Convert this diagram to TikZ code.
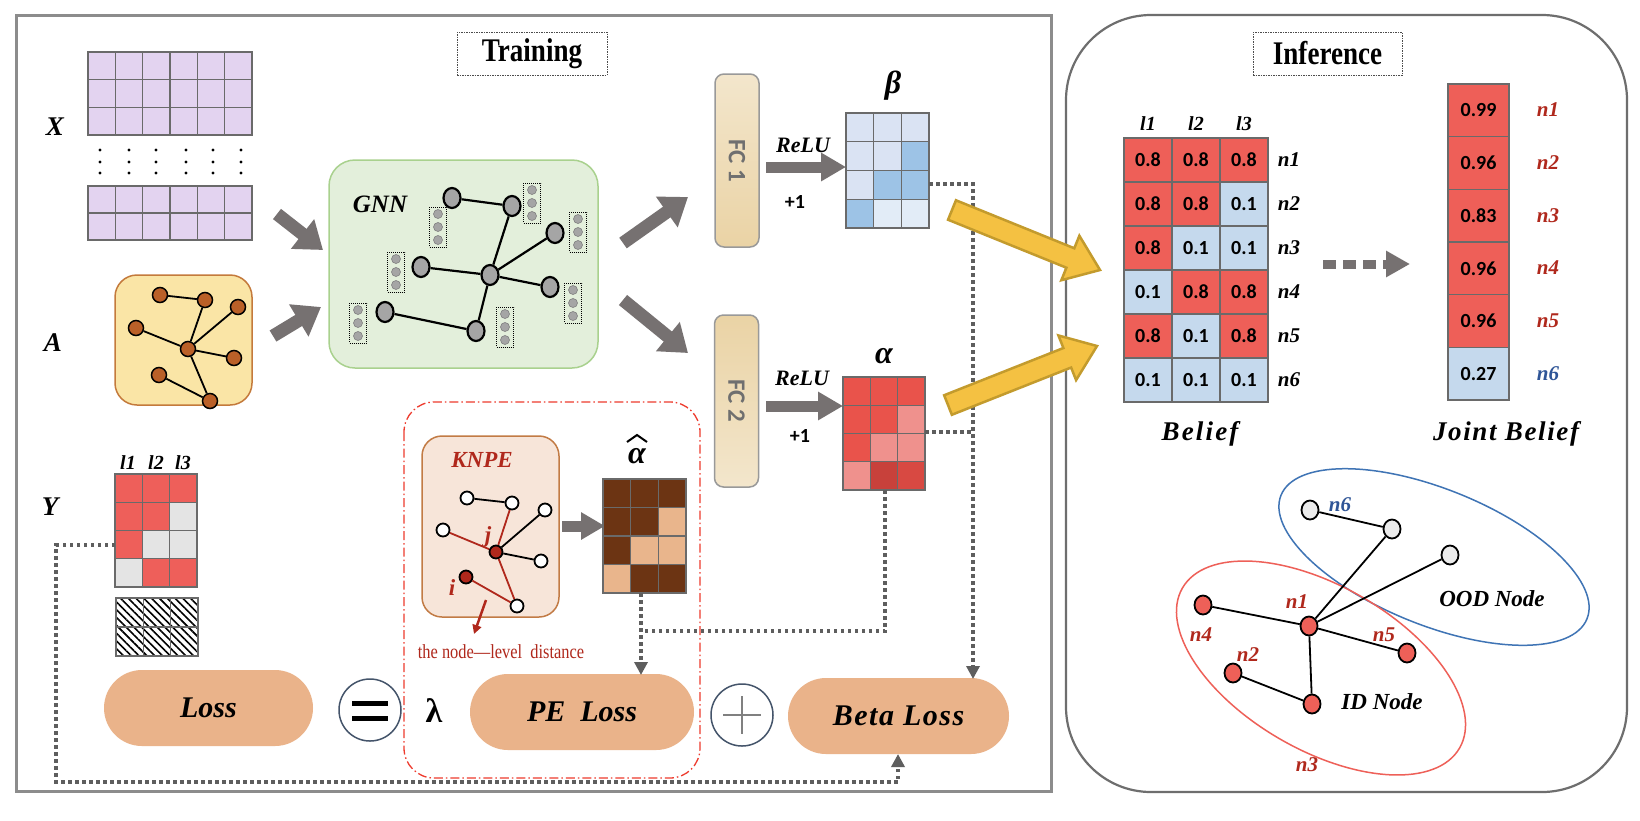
\documentclass[tikz,border=0pt]{standalone}
\usepackage{fontspec}
\setmainfont{Liberation Serif}
\newfontfamily\calib{Carlito}
\newfontfamily\condser[FakeStretch=0.82]{Liberation Serif}
\usetikzlibrary{arrows.meta,calc,patterns.meta,shapes.geometric}
\definecolor{framec}{HTML}{8C8C8C}
\definecolor{framei}{HTML}{6E6E6E}
\definecolor{arrgray}{HTML}{767171}
\definecolor{dotgray}{HTML}{5E5E5E}
\definecolor{purp}{HTML}{E3D3F0}
\definecolor{gridc}{HTML}{6A6A6A}
\definecolor{aboxc}{HTML}{FAE5A6}
\definecolor{aboxb}{HTML}{C47A3C}
\definecolor{anodec}{HTML}{BA6028}
\definecolor{gnnbg}{HTML}{E3EFDB}
\definecolor{gnnb}{HTML}{A9D18E}
\definecolor{gnodec}{HTML}{A5A5A5}
\definecolor{fctop}{HTML}{F3E6CC}
\definecolor{fcbot}{HTML}{EAD3A5}
\definecolor{fctext}{HTML}{6F6F6F}
\definecolor{blA}{HTML}{DAE3F3}
\definecolor{blB}{HTML}{9DC3E6}
\definecolor{blC}{HTML}{E2ECF7}
\definecolor{rdA}{HTML}{E9534B}
\definecolor{rdB}{HTML}{EF918D}
\definecolor{rdC}{HTML}{C8413B}
\definecolor{rdD}{HTML}{D84942}
\definecolor{yred}{HTML}{EE5F5A}
\definecolor{ygray}{HTML}{E4E4E4}
\definecolor{brn}{HTML}{6C3413}
\definecolor{tanc}{HTML}{E9B58C}
\definecolor{knpebg}{HTML}{F7E5D9}
\definecolor{knpeb}{HTML}{C27B45}
\definecolor{dred}{HTML}{B0281C}
\definecolor{lossc}{HTML}{EAB38A}
\definecolor{circb}{HTML}{44546A}
\definecolor{dashred}{HTML}{EE3B2E}
\definecolor{yel}{HTML}{F4C142}
\definecolor{yelb}{HTML}{C39B2D}
\definecolor{bred}{HTML}{EE5F58}
\definecolor{bblue}{HTML}{C5D9ED}
\definecolor{nblue}{HTML}{2F5597}
\definecolor{oodb}{HTML}{3F74B5}
\definecolor{idr}{HTML}{EE6058}
\definecolor{lgray}{HTML}{EBEBEB}

\newcommand{\matrixcells}[6]{%
  \foreach \cc [count=\k from 0] in {#6} {%
    \pgfmathtruncatemacro{\rr}{\k/#5}%
    \pgfmathtruncatemacro{\cl}{mod(\k,#5)}%
    \filldraw[fill=\cc, draw=gridc, line width=1.3pt] ({#1+\cl*#3},{#2+\rr*#4}) rectangle ++(#3,#4);
  }}
\newcommand{\valcells}[7]{%
  \foreach \cc/\vv [count=\k from 0] in {#6} {%
    \pgfmathtruncatemacro{\rr}{\k/#5}%
    \pgfmathtruncatemacro{\cl}{mod(\k,#5)}%
    \filldraw[fill=\cc, draw=gridc, line width=1.3pt] ({#1+\cl*#3},{#2+\rr*#4}) rectangle ++(#3,#4);
    \node[num] (#7\k) at ({#1+(\cl+0.5)*#3},{#2+(\rr+0.5)*#4}) {\vv};
  }}
\newcommand{\yelarrow}[2]{%
  \path ($(#2)!32pt!(#1)$) coordinate (yh);
  \filldraw[fill=yel, draw=yelb, line width=2.5pt, line join=miter]
    ($(#1)!10.5pt!90:(#2)$) -- ($(yh)!10.5pt!-90:(#1)$) -- ($(yh)!24pt!-90:(#1)$) -- (#2)
    -- ($(yh)!24pt!90:(#1)$) -- ($(yh)!10.5pt!90:(#1)$) -- ($(#1)!10.5pt!-90:(#2)$) -- cycle;}

\begin{document}
\begin{tikzpicture}[x=1pt,y=-1pt,
  lbl/.style={font=\bfseries\itshape\fontsize{27}{28}\selectfont},
  smlbl/.style={font=\bfseries\itshape\fontsize{22}{23}\selectfont},
  num/.style={font=\calib\bfseries\fontsize{20}{22}\selectfont},
  box0/.style={inner sep=0pt, outer sep=0pt, draw=none},
  titlebox/.style={draw=black!70, dash pattern=on 1.5pt off 1pt, line width=0.8pt, inner sep=0pt, font=\condser\bfseries\fontsize{33}{34}\selectfont},
  garrow/.style={draw=arrgray, line width=13pt, -{Triangle[length=26pt,width=36pt]}},
  sarrow/.style={draw=arrgray, line width=11pt, -{Triangle[length=25pt,width=27pt]}},
  dotl/.style={draw=dotgray, line width=3.5pt, dash pattern=on 3.5pt off 3.5pt},
  dtip/.style={-{Triangle[length=13pt,width=13pt]}},
  anode/.style={circle, draw=black, line width=1.5pt, fill=anodec, minimum size=15pt, inner sep=0pt},
  gnode/.style={ellipse, draw=black, line width=2.2pt, fill=gnodec, minimum width=17pt, minimum height=20pt, inner sep=0pt},
  fbox/.style={draw=black, dash pattern=on 1pt off 1pt, line width=1pt, minimum width=17pt, minimum height=40pt, inner sep=0pt},
  fdot/.style={circle, fill=gnodec, draw=gray, line width=0.6pt, minimum size=9pt, inner sep=0pt},
  knode/.style={circle, draw=black, line width=1.8pt, fill=white, minimum size=13pt, inner sep=0pt},
  inode/.style={ellipse, draw=black, line width=1.8pt, minimum width=17pt, minimum height=19pt, inner sep=0pt},
  fcbox/.style={draw=black!40, line width=1.5pt, rounded corners=9pt, minimum width=44pt, minimum height=173pt, inner sep=0pt},
  fctxt/.style={rotate=-90, text=fctext, font=\calib\bfseries\fontsize{25}{25}\selectfont},
  lossbox/.style={fill=lossc, rounded corners=38pt, minimum height=76pt, inner sep=0pt, font=\bfseries\itshape\fontsize{30}{32}\selectfont},
  opc/.style={circle, draw=circb, line width=1.5pt, minimum size=62pt, inner sep=0pt},
  blk/.style={draw=black, line width=1.8pt},
  redl/.style={draw=dred, line width=1.8pt},
  nlbl/.style={font=\bfseries\itshape\fontsize{21}{21}\selectfont}
]
\useasboundingbox (0,0) rectangle (1640,820);
\fill[white] (0,0) rectangle (1640,820);

% ---------- frames ----------
\draw[framec, line width=3pt] (16,15) rectangle (1051,791);
\draw[framei, line width=2.2pt, rounded corners=85pt] (1066,15) rectangle (1627,792);
\node[titlebox, minimum width=150pt, minimum height=43pt] (train) at (532,53.5) {Training};
\node[titlebox, minimum width=149pt, minimum height=43pt] (infer) at (1327.5,53.5) {Inference};

% ---------- X ----------
\matrixcells{88}{52}{27.33}{27.67}{6}{purp,purp,purp,purp,purp,purp,purp,purp,purp,purp,purp,purp,purp,purp,purp,purp,purp,purp}
\matrixcells{88}{186}{27.33}{27}{6}{purp,purp,purp,purp,purp,purp,purp,purp,purp,purp,purp,purp}
\foreach \xx [count=\q] in {100,129,156,186,213,241}{
  \foreach \yy [count=\w] in {150,162,173}{
    \fill[black] (\xx,\yy) circle (1.6pt);
  }}
\node[box0, minimum width=164pt, minimum height=188pt] (Xm) at (170,146) {};
\node[lbl] (Xl) at (55,127) {X};

% ---------- A ----------
\node[box0, draw=aboxb, fill=aboxc, line width=1.5pt, rounded corners=22pt, minimum width=137pt, minimum height=130pt] (Abox) at (183.5,340) {};
\node[lbl] (Al) at (53,343) {A};
\node[anode] (a1) at (160,295) {};
\node[anode] (a2) at (205,300) {};
\node[anode] (a3) at (238,307) {};
\node[anode] (a4) at (136,328) {};
\node[anode] (a0) at (188,349) {};
\node[anode] (a5) at (234,358) {};
\node[anode] (a6) at (159,375) {};
\node[anode] (a7) at (210,401) {};
\foreach \u/\v in {a1/a2,a2/a0,a3/a0,a4/a0,a0/a5,a0/a7,a6/a7} \draw[blk] (\u) -- (\v);

% arrows into GNN
\coordinate (xs) at (277,214); \coordinate (xe) at (323,250);
\coordinate (as) at (273,336); \coordinate (ae) at (321,307);
\draw[garrow] (xs) -- (xe);
\draw[garrow] (as) -- (ae);

% ---------- GNN ----------
\node[box0, draw=gnnb, fill=gnnbg, line width=1.5pt, rounded corners=26pt, minimum width=269pt, minimum height=208pt] (gnn) at (463.5,264) {};
\node[lbl, font=\bfseries\itshape\fontsize{25}{26}\selectfont] (gnnl) at (380,204) {GNN};
\foreach \nm/\px/\py in {f1/438/227, f2/532/203, f3/578/232, f4/396/272, f5/573/303, f6/505/327, f7/358/323}{
  \node[fbox] (\nm) at (\px,\py) {};
  \node[fdot] (\nm a) at (\px,\py-13) {};
  \node[fdot] (\nm b) at (\px,\py) {};
  \node[fdot] (\nm c) at (\px,\py+13) {};
}
\node[gnode] (g1) at (452,198) {};
\node[gnode] (g2) at (512,206) {};
\node[gnode] (g3) at (555,233) {};
\node[gnode] (g4) at (421,267) {};
\node[gnode] (g0) at (490,275) {};
\node[gnode] (g5) at (550,287) {};
\node[gnode] (g6) at (385,312) {};
\node[gnode] (g7) at (476,331) {};
\foreach \u/\v in {g1/g2,g2/g0,g3/g0,g4/g0,g0/g5,g0/g7,g6/g7} \draw[blk, line width=2.2pt] (\u) -- (\v);

% arrows to FC
\coordinate (g1s) at (623,243); \coordinate (g1e) at (688,197);
\coordinate (g2s) at (623,300); \coordinate (g2e) at (688,353);
\draw[garrow] (g1s) -- (g1e);
\draw[garrow] (g2s) -- (g2e);

% ---------- FC ----------
\node[fcbox, top color=fctop, bottom color=fcbot] (fc1) at (737,160.5) {};
\node[fcbox, top color=fcbot, bottom color=fctop, minimum height=172pt] (fc2) at (736.5,401) {};
\node[fctxt] (fc1t) at (fc1) {FC 1};
\node[fctxt] (fc2t) at (fc2) {FC 2};

% ReLU arrows
\coordinate (r1s) at (766,167); \coordinate (r1e) at (846,167);
\coordinate (r2s) at (766,406); \coordinate (r2e) at (843,406);
\draw[sarrow] (r1s) -- (r1e);
\draw[sarrow] (r2s) -- (r2e);
\node[smlbl] (relu1) at (803,145) {ReLU};
\node[smlbl] (relu2) at (802,378) {ReLU};
\node[num] (p1) at (795,202) {+1};
\node[num] (p2) at (800,436) {+1};

% beta / alpha matrices
\node[font=\bfseries\itshape\fontsize{32}{32}\selectfont] (betal) at (893,86) {β};
\matrixcells{846}{113}{27.67}{28.75}{3}{blA,blA,blA,blA,blA,blB,blA,blB,blB,blB,blC,blC}
\node[box0, minimum width=83pt, minimum height=115pt] (betaM) at (887.5,170.5) {};
\node[font=\bfseries\itshape\fontsize{32}{32}\selectfont] (alphal) at (884,356) {α};
\matrixcells{843}{377}{27.33}{28.25}{3}{rdA,rdA,rdA,rdA,rdA,rdB,rdA,rdB,rdB,rdB,rdC,rdD}
\node[box0, minimum width=82pt, minimum height=113pt] (alphaM) at (884,433.5) {};

% ---------- Y ----------
\node[lbl] (Yl) at (50,507) {Y};
\node[smlbl, font=\bfseries\itshape\fontsize{20}{20}\selectfont] (yl1) at (128,463) {l1};
\node[smlbl, font=\bfseries\itshape\fontsize{20}{20}\selectfont] (yl2) at (156,463) {l2};
\node[smlbl, font=\bfseries\itshape\fontsize{20}{20}\selectfont] (yl3) at (183,463) {l3};
\matrixcells{115}{474}{27.33}{28.25}{3}{yred,yred,yred,yred,yred,ygray,yred,ygray,ygray,ygray,yred,yred}
\node[box0, minimum width=82pt, minimum height=113pt] (Ym) at (156,530.5) {};
\foreach \r in {0,1}{\foreach \c in {0,1,2}{
  \filldraw[draw=gridc, line width=1.3pt, pattern={Lines[angle=-45,distance=5.5pt,line width=1.6pt]}, pattern color=black] ({116+\c*27.33},{598+\r*29}) rectangle ++(27.33,29);
}}

% ---------- KNPE ----------
\draw[dashred, line width=1.3pt, dash pattern=on 9pt off 3pt on 1.5pt off 3pt, rounded corners=30pt] (404,402) rectangle (700,778);
\node[box0, draw=knpeb, fill=knpebg, line width=1.5pt, rounded corners=20pt, minimum width=137pt, minimum height=181pt] (knpe) at (490.5,526.5) {};
\node[text=dred, font=\bfseries\itshape\fontsize{23}{24}\selectfont] (knpel) at (482,460) {KNPE};
\node[knode] (k1) at (467,498) {};
\node[knode] (k2) at (512,503) {};
\node[knode] (k3) at (545,510) {};
\node[knode] (k4) at (443,530) {};
\node[knode, fill=dred] (kj) at (496,552) {};
\node[knode] (k5) at (541,561) {};
\node[knode, fill=dred] (ki) at (466,577) {};
\node[knode] (k6) at (517,606) {};
\draw[blk] (k1) -- (k2);
\draw[redl] (k2) -- (kj);
\draw[blk] (k3) -- (kj);
\draw[redl] (k4) -- (kj);
\draw[blk] (kj) -- (k5);
\draw[redl] (kj) -- (k6);
\draw[redl] (ki) -- (k6);
\node[text=dred, font=\bfseries\itshape\fontsize{23}{23}\selectfont] (jl) at (488,537) {j};
\node[text=dred, font=\bfseries\itshape\fontsize{23}{23}\selectfont] (il) at (452,588) {i};
\coordinate (ds) at (486,600); \coordinate (de) at (474,634);
\draw[dred, line width=2.5pt, -{Triangle[length=9pt,width=9pt]}] (ds) -- (de);
\node[text=dred, font=\condser\fontsize{20}{20}\selectfont] (nld) at (501,652) {the node—level\ \ distance};

% alpha hat
\coordinate (ks) at (562,526); \coordinate (ke) at (605,526);
\draw[draw=arrgray, line width=11pt, -{Triangle[length=24pt,width=26pt]}] (ks) -- (ke);
\node[font=\bfseries\itshape\fontsize{32}{32}\selectfont] (ahatl) at (637,456) {α};
\draw[black, line width=2pt, line join=miter] (627,442) -- (637,435) -- (647,442);
\matrixcells{603}{479}{27.67}{28.5}{3}{brn,brn,brn,brn,brn,tanc,brn,tanc,tanc,tanc,brn,brn}
\node[box0, minimum width=83pt, minimum height=114pt] (ahatM) at (644.5,536) {};

% ---------- Loss row ----------
\node[lossbox, minimum width=209pt] (loss) at (208.5,708) {Loss};
\node[opc] (eqc) at (370,710) {};
\draw[black, line width=5pt] ($(eqc)+(-18,-7)$) -- ($(eqc)+(18,-7)$);
\draw[black, line width=5pt] ($(eqc)+(-18,8)$) -- ($(eqc)+(18,8)$);
\node[font=\bfseries\fontsize{34}{34}\selectfont] (lam) at (434,711) {λ};
\node[lossbox, minimum width=224pt] (peL) at (582,712) {PE\ \ Loss};
\node[opc] (plc) at (742,715) {};
\draw[gray, line width=2pt] ($(plc)+(-19,0)$) -- ($(plc)+(19,0)$);
\draw[gray, line width=2pt] ($(plc)+(0,-19)$) -- ($(plc)+(0,19)$);
\node[lossbox, minimum width=221pt] (betaL) at (898.5,716) {\addfontfeature{LetterSpace=5}Beta\ Loss};

% ---------- dotted connectors ----------
\coordinate (bR) at (929,184);
\coordinate (bT) at (973,679);
\coordinate (aR) at (925,432);
\coordinate (aV) at (973,432);
\coordinate (aB) at (885,490);
\coordinate (jn) at (641,631);
\coordinate (ahB) at (641,593);
\coordinate (peT) at (641,675);
\coordinate (yS) at (115,545);
\coordinate (yC) at (56,782);
\coordinate (blB) at (898,754);
\draw[dotl, dtip] (bR) -| (bT);
\draw[dotl] (aR) -- (aV);
\draw[dotl] (aB) |- (jn);
\draw[dotl, dtip] (ahB) -- (peT);
\draw[dotl, dtip] (yS) -| (yC) -| (blB);

% ---------- yellow arrows ----------
\coordinate (y1s) at (952,210); \coordinate (y1e) at (1100,270);
\coordinate (y2s) at (948,405); \coordinate (y2e) at (1097,346);
\yelarrow{y1s}{y1e}
\yelarrow{y2s}{y2e}

% ---------- Belief ----------
\foreach \t/\xx in {l1/1148,l2/1196,l3/1244}{
  \node[font=\bfseries\itshape\fontsize{20}{20}\selectfont] (bl\t) at (\xx,124) {\t};
}
\valcells{1124}{138}{48}{44}{3}{bred/0.8,bred/0.8,bred/0.8,bred/0.8,bred/0.8,bblue/0.1,bred/0.8,bblue/0.1,bblue/0.1,bblue/0.1,bred/0.8,bred/0.8,bred/0.8,bblue/0.1,bred/0.8,bblue/0.1,bblue/0.1,bblue/0.1}{bv}
\node[box0, minimum width=144pt, minimum height=264pt] (belM) at (1196,270) {};
\foreach \t/\yy in {n1/160,n2/204,n3/248,n4/292,n5/336,n6/380}{
  \node[nlbl] (bn\t) at (1289,\yy) {\t};
}
\node[font=\bfseries\itshape\fontsize{27}{28}\selectfont\addfontfeature{LetterSpace=8}] (bell) at (1200,434) {Belief};

% dotted arrow
\coordinate (da) at (1323,264); \coordinate (db) at (1410,264);
\draw[draw=arrgray, line width=9pt, dash pattern=on 13pt off 7pt, -{Triangle[length=24pt,width=25pt]}] (da) -- (db);

% joint
\valcells{1448}{84}{61}{52.67}{1}{bred/0.99,bred/0.96,bred/0.83,bred/0.96,bred/0.96,bblue/0.27}{jv}
\node[box0, minimum width=61pt, minimum height=316pt] (jM) at (1478.5,242) {};
\foreach \t/\yy/\cc in {n1/110/dred,n2/163/dred,n3/216/dred,n4/268/dred,n5/321/dred,n6/374/nblue}{
  \node[nlbl, text=\cc] (jn\t) at (1548,\yy) {\t};
}
\node[font=\bfseries\itshape\fontsize{27}{28}\selectfont\addfontfeature{LetterSpace=6}] (jbl) at (1506,434) {Joint Belief};

% ---------- ID / OOD graph ----------
\draw[oodb, line width=1.5pt, rotate around={-22:(1434,557)}] (1434,557) ellipse [x radius=165, y radius=68];
\draw[idr, line width=1.5pt, rotate around={-30:(1321,668)}] (1321,668) ellipse [x radius=160, y radius=82];
\node[inode, fill=lgray] (m6) at (1310,510) {};
\node[inode, fill=lgray] (m7) at (1392,529) {};
\node[inode, fill=lgray] (m8) at (1450,555) {};
\node[inode, fill=idr] (m1) at (1309,626) {};
\node[inode, fill=idr] (m4) at (1203,605) {};
\node[inode, fill=idr] (m5) at (1407,653) {};
\node[inode, fill=idr] (m2) at (1233,673) {};
\node[inode, fill=idr] (m3) at (1312,704) {};
\foreach \u/\v in {m6/m7,m7/m1,m8/m1,m4/m1,m1/m5,m1/m3,m2/m3} \draw[blk] (\u) -- (\v);
\node[nlbl, text=nblue] (ln6) at (1340,505) {n6};
\node[nlbl, text=dred] (ln1) at (1297,602) {n1};
\node[nlbl, text=dred] (ln4) at (1201,635) {n4};
\node[nlbl, text=dred] (ln5) at (1384,635) {n5};
\node[nlbl, text=dred] (ln2) at (1248,655) {n2};
\node[nlbl, text=dred] (ln3) at (1307,765) {n3};
\node[font=\bfseries\itshape\fontsize{23}{24}\selectfont] (oodl) at (1492,599) {OOD Node};
\node[font=\bfseries\itshape\fontsize{23}{24}\selectfont] (idl) at (1382,702) {ID Node};
\end{tikzpicture}
\end{document}
